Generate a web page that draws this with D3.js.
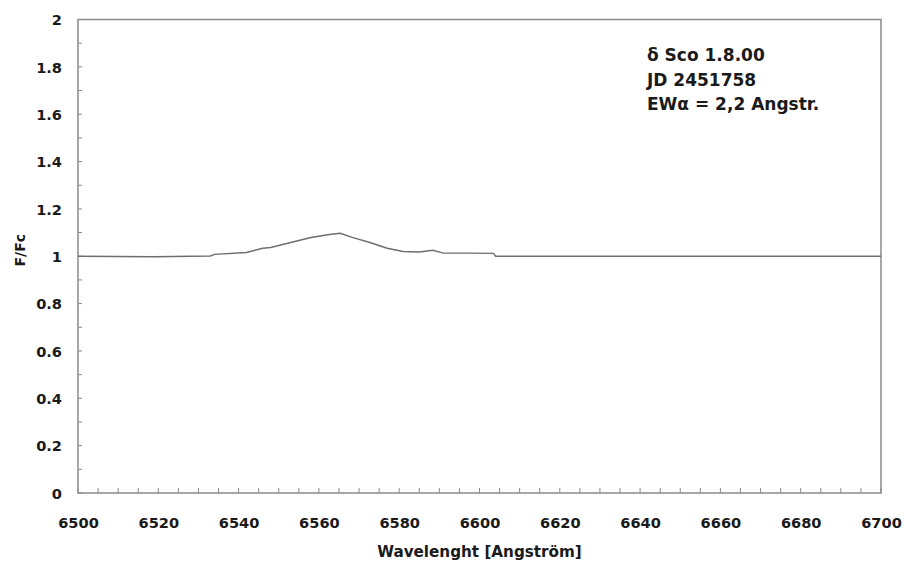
<!DOCTYPE html>
<html><head><meta charset="utf-8">
<script src="https://cdn.jsdelivr.net/npm/d3@7"></script>
<style>
html,body{margin:0;padding:0;background:#fff;}
text{font-family:"DejaVu Sans",sans-serif;font-weight:bold;fill:#1a1a1a;}
</style></head>
<body><svg id="c" width="904" height="566"></svg>
<script>
const wavelength = [6500, 6519, 6533, 6534, 6542, 6546, 6548, 6553, 6558, 6563, 6565.3, 6568.5, 6572.7, 6577, 6581, 6585, 6588.4, 6591, 6597.6, 6603.5, 6604, 6650, 6700];
const flux       = [1.000, 0.998, 1.001, 1.008, 1.016, 1.034, 1.037, 1.058, 1.079, 1.093, 1.097, 1.079, 1.058, 1.034, 1.020, 1.018, 1.025, 1.013, 1.013, 1.012, 1.000, 1.000, 1.000];
const xTicks = [6500, 6520, 6540, 6560, 6580, 6600, 6620, 6640, 6660, 6680, 6700];
const yTicks = [0, 0.2, 0.4, 0.6, 0.8, 1, 1.2, 1.4, 1.6, 1.8, 2];
const annotation = ["\u03B4 Sco 1.8.00", "JD 2451758", "EW\u03B1 = 2,2 Angstr."];
const xTitle = "Wavelenght [Angstr\u00F6m]";
const yTitle = "F/Fc";

const svg = d3.select("#c");
const L = 78, R = 881, T = 19.5, B = 493;
const x = d3.scaleLinear().domain([6500, 6700]).range([L, R]);
const y = d3.scaleLinear().domain([0, 2]).range([B, T]);
const frame = "#8a8a8a";

// minor ticks x (every 5)
const xMinor = d3.range(6500, 6701, 5);
svg.append("g").selectAll("line").data(xMinor).join("line")
  .attr("x1", d => x(d)).attr("x2", d => x(d))
  .attr("y1", B).attr("y2", B - 5)
  .attr("stroke", frame).attr("stroke-width", 1);
const yMinor = d3.range(0, 21).map(i => i / 10);
svg.append("g").selectAll("line").data(yMinor).join("line")
  .attr("x1", L).attr("x2", L + 4)
  .attr("y1", d => y(d)).attr("y2", d => y(d))
  .attr("stroke", frame).attr("stroke-width", 1);

// frame
svg.append("rect").attr("x", L).attr("y", T).attr("width", R - L).attr("height", B - T)
  .attr("fill", "none").attr("stroke", frame).attr("stroke-width", 1.5);

// axes labels
const xAxis = d3.axisBottom(x).tickValues(xTicks).tickSize(0).tickPadding(0).tickFormat(d3.format("d"));
const gx = svg.append("g").attr("transform", `translate(0,${B})`).call(xAxis);
gx.select(".domain").remove();
gx.selectAll("text").attr("dy", null).attr("y", 35).style("font-size", "14.6px").style("font-family", "DejaVu Sans").style("font-weight", "bold").attr("fill", "#1a1a1a");

const yAxis = d3.axisLeft(y).tickValues(yTicks).tickSize(0).tickPadding(0).tickFormat(d => String(d));
const gy = svg.append("g").attr("transform", `translate(${L},0)`).call(yAxis);
gy.select(".domain").remove();
gy.selectAll("text").attr("x", -16).attr("dy", "0.36em").style("font-size", "14.6px").style("font-family", "DejaVu Sans").style("font-weight", "bold").attr("fill", "#1a1a1a");

// spectrum line
const line = d3.line().x((d, i) => x(wavelength[i])).y(d => y(d));
svg.append("path").datum(flux).attr("d", line)
  .attr("fill", "none").attr("stroke", "#6e6e6e").attr("stroke-width", 1.4);

// titles
svg.append("text").attr("x", (L + R) / 2).attr("y", 557).attr("text-anchor", "middle")
  .style("font-size", "15.2px").text(xTitle);
svg.append("text").attr("transform", `translate(25,${y(1) - 6}) rotate(-90)`).attr("text-anchor", "middle")
  .style("font-size", "14px").text(yTitle);

// annotation
svg.append("g").selectAll("text").data(annotation).join("text")
  .attr("x", 647).attr("y", (d, i) => 61 + i * 24.5)
  .style("font-size", "17px").text(d => d);
</script></body></html>
